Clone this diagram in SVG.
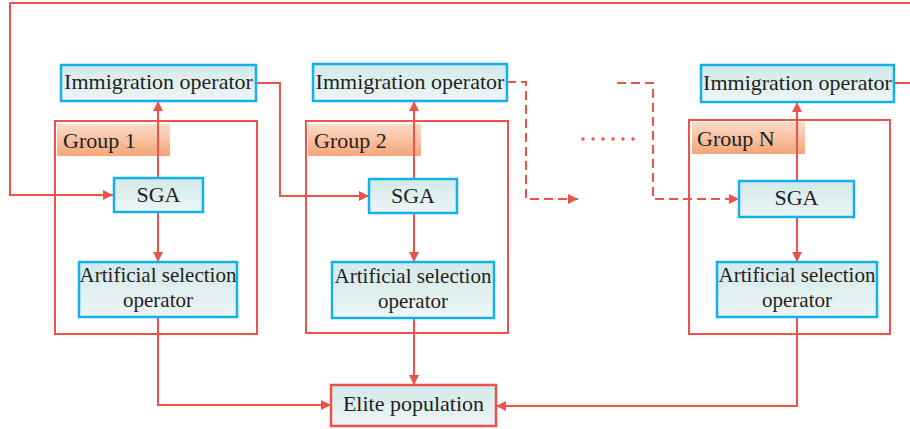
<svg xmlns="http://www.w3.org/2000/svg" width="910" height="429" viewBox="0 0 910 429">
<defs>
<linearGradient id="boxfill" x1="0" y1="0" x2="0" y2="1">
<stop offset="0" stop-color="#D3E9EA"/>
<stop offset="1" stop-color="#EEF5F5"/>
</linearGradient>
<linearGradient id="labelfill" x1="0" y1="0" x2="0" y2="1">
<stop offset="0" stop-color="#FBDCC8"/>
<stop offset="1" stop-color="#F4A679"/>
</linearGradient>
<marker id="arr" viewBox="0 0 10 10" refX="10" refY="5" markerWidth="10" markerHeight="10" markerUnits="userSpaceOnUse" orient="auto">
<path d="M0,0 L10,5 L0,10 Z" fill="#EE524A"/>
</marker>
<style>
.box{fill:url(#boxfill);stroke:#12B0EC;stroke-width:2.5}
.elite{fill:url(#boxfill);stroke:#EE524A;stroke-width:2.5}
.group{fill:#fff;stroke:#EE524A;stroke-width:2}
.label{fill:url(#labelfill)}
.t{font-family:"Liberation Serif","Times New Roman",serif;font-size:21px;fill:#231F20}
.big{font-size:22px}
.tm{text-anchor:middle}
.c{fill:none;stroke:#EE524A;stroke-width:2}
.d{stroke-dasharray:9 5}
.dot{fill:#EE524A}
</style>
</defs>

<g id="group1">
<rect class="group" x="55" y="121" width="202" height="213"/>
<rect class="label" x="57" y="124" width="113" height="32"/>
<text class="t big" x="63" y="148">Group 1</text>
</g>
<g id="group2">
<rect class="group" x="306" y="121" width="202" height="212"/>
<rect class="label" x="308" y="124" width="113" height="32"/>
<text class="t big" x="314" y="148">Group 2</text>
</g>
<g id="groupN">
<rect class="group" x="689" y="120" width="201" height="214"/>
<rect class="label" x="692" y="122" width="113" height="32"/>
<text class="t big" x="697" y="146">Group N</text>
</g>

<g id="connectors">
<path class="c" d="M894,83 H916 V3 H10 V195 H113" marker-end="url(#arr)"/>
<path class="c" d="M256,83 H280 V196 H369" marker-end="url(#arr)"/>
<path class="c" d="M158,178 V101" marker-end="url(#arr)"/>
<path class="c" d="M158,212 V262" marker-end="url(#arr)"/>
<path class="c" d="M158,317 V405 H331" marker-end="url(#arr)"/>
<path class="c" d="M414,179 V101" marker-end="url(#arr)"/>
<path class="c" d="M414,213 V262" marker-end="url(#arr)"/>
<path class="c" d="M414,318 V385" marker-end="url(#arr)"/>
<path class="c d" d="M507,82 H526 V199 H578" marker-end="url(#arr)"/>
<g id="ellipsis">
<circle class="dot" cx="583" cy="139" r="1.7"/>
<circle class="dot" cx="593" cy="139" r="1.7"/>
<circle class="dot" cx="603" cy="139" r="1.7"/>
<circle class="dot" cx="613" cy="139" r="1.7"/>
<circle class="dot" cx="623" cy="139" r="1.7"/>
<circle class="dot" cx="633" cy="139" r="1.7"/>
</g>
<path class="c d" d="M617,83 H653 V199 H739" marker-end="url(#arr)"/>
<path class="c" d="M797,181 V102" marker-end="url(#arr)"/>
<path class="c" d="M797,217 V262" marker-end="url(#arr)"/>
<path class="c" d="M797,317 V406 H496" marker-end="url(#arr)"/>
</g>

<g id="immigration1">
<rect class="box" x="61" y="65" width="195" height="36"/>
<text class="t big tm" x="158.5" y="89">Immigration operator</text>
</g>
<g id="sga1">
<rect class="box" x="114" y="178" width="89" height="34"/>
<text class="t big tm" x="158.5" y="202">SGA</text>
</g>
<g id="artificial1">
<rect class="box" x="79" y="262" width="158" height="55"/>
<text class="t tm" x="158" y="282">Artificial selection</text>
<text class="t tm" x="158" y="307">operator</text>
</g>

<g id="immigration2">
<rect class="box" x="313" y="64" width="194" height="37"/>
<text class="t big tm" x="410" y="89">Immigration operator</text>
</g>
<g id="sga2">
<rect class="box" x="369" y="179" width="88" height="34"/>
<text class="t big tm" x="413" y="203">SGA</text>
</g>
<g id="artificial2">
<rect class="box" x="332" y="262" width="162" height="56"/>
<text class="t tm" x="413" y="283">Artificial selection</text>
<text class="t tm" x="413" y="308">operator</text>
</g>

<g id="immigrationN">
<rect class="box" x="701" y="65" width="193" height="37"/>
<text class="t big tm" x="797.5" y="90">Immigration operator</text>
</g>
<g id="sgaN">
<rect class="box" x="739" y="181" width="115" height="36"/>
<text class="t big tm" x="796.5" y="205">SGA</text>
</g>
<g id="artificialN">
<rect class="box" x="717" y="262" width="160" height="55"/>
<text class="t tm" x="797" y="282">Artificial selection</text>
<text class="t tm" x="797" y="307">operator</text>
</g>

<g id="elite">
<rect class="elite" x="331" y="385" width="165" height="41"/>
<text class="t big tm" x="413.5" y="411">Elite population</text>
</g>
</svg>
